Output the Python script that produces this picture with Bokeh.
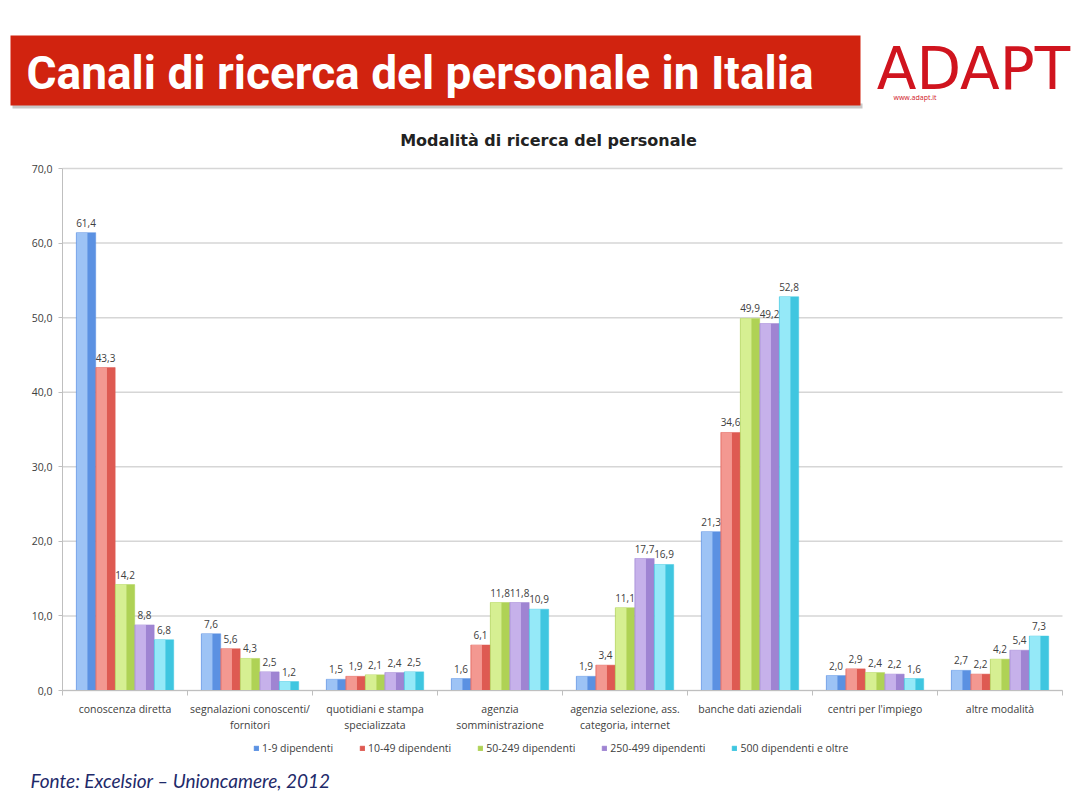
from bokeh.plotting import figure
from bokeh.models import (Range1d, ColumnDataSource, Legend, LegendItem,
                          FixedTicker, CustomJSTickFormatter, Label, BoxAnnotation)
from bokeh.core.properties import value
from bokeh.embed import file_html
from bokeh.resources import INLINE

# ---------------- data ----------------
categories = [
    "conoscenza diretta",
    "segnalazioni conoscenti/\nfornitori",
    "quotidiani e stampa\nspecializzata",
    "agenzia\nsomministrazione",
    "agenzia selezione, ass.\ncategoria, internet",
    "banche dati aziendali",
    "centri per l'impiego",
    "altre modalità",
]
series_names = ["1-9 dipendenti", "10-49 dipendenti", "50-249 dipendenti",
                "250-499 dipendenti", "500 dipendenti e oltre"]
v_1_9 = [61.4, 7.6, 1.5, 1.6, 1.9, 21.3, 2.0, 2.7]
v_10_49 = [43.3, 5.6, 1.9, 6.1, 3.4, 34.6, 2.9, 2.2]
v_50_249 = [14.2, 4.3, 2.1, 11.8, 11.1, 49.9, 2.4, 4.2]
v_250_499 = [8.8, 2.5, 2.4, 11.8, 17.7, 49.2, 2.2, 5.4]
v_500 = [6.8, 1.2, 2.5, 10.9, 16.9, 52.8, 1.6, 7.3]
y_ticks = [0, 10, 20, 30, 40, 50, 60, 70]

series_values = [v_1_9, v_10_49, v_50_249, v_250_499, v_500]
dark_colors = ["#5B91E2", "#DE5A52", "#AFD255", "#9F84D2", "#3FC6E0"]
light_colors = ["#A9CBF8", "#F7A39C", "#DDF49E", "#CDB8EE", "#A4EFFB"]

# ---------------- page geometry ----------------
W, H = 1077, 803
PL, PR, PT, PB = 62, 1062, 168, 690     # plot area (axes box) in page pixels
n = len(categories)
ymax = y_ticks[-1]
ppu_x = (PR - PL) / n                    # pixels per category
ppu_y = (PB - PT) / ymax                 # pixels per unit
x_start = -0.5 - PL / ppu_x
x_end = n - 0.5 + (W - PR) / ppu_x
y_start = -(H - PB) / ppu_y
y_end = ymax + PT / ppu_y

SMALL = "Open Sans"
GRAY = "#BFBFBF"

p = figure(width=W, height=H, x_range=Range1d(x_start, x_end), y_range=Range1d(y_start, y_end),
           toolbar_location=None, output_backend="svg", min_border=0)
p.outline_line_color = None
p.grid.visible = False
p.extra_x_ranges = {"px": Range1d(0, W)}
p.extra_y_ranges = {"px": Range1d(H, 0)}

# horizontal gridlines across the category span
p.segment(x0=[-0.5] * len(y_ticks), x1=[n - 0.5] * len(y_ticks), y0=y_ticks, y1=y_ticks,
          line_color="#D6D6D6", line_width=1.5)

offsets = [-0.312, -0.156, 0.0, 0.156, 0.312]
bw = 0.155
xi = list(range(n))
items = []
for name, vals, off, dc, lc in zip(series_names, series_values, offsets, dark_colors, light_colors):
    src = ColumnDataSource(dict(x=[i + off for i in xi], xl=[i + off - bw * 0.2 for i in xi],
                                top=vals, lbl=[f"{v:.1f}".replace(".", ",") for v in vals]))
    r = p.vbar(x="x", top="top", width=bw, source=src,
               fill_color=dc, line_color=dc, line_width=0.5)
    p.vbar(x="xl", top="top", width=bw * 0.55, source=src,
           fill_color=lc, line_color=None, fill_alpha=0.85)
    p.text(x="x", y="top", text="lbl", source=src, y_offset=-6, text_align="center",
           text_baseline="bottom", text_font=value(SMALL), text_font_size="10px",
           text_color="#404040")
    items.append(LegendItem(label=name, renderers=[r]))

# axes drawn at fixed positions inside the page frame
p.yaxis.fixed_location = -0.5
p.yaxis.bounds = (0, ymax)
p.yaxis.ticker = FixedTicker(ticks=y_ticks)
p.yaxis.formatter = CustomJSTickFormatter(code="return tick.toFixed(1).replace('.', ',');")
p.yaxis.axis_line_color = GRAY
p.yaxis.major_tick_line_color = GRAY
p.yaxis.major_tick_out = 4
p.yaxis.major_tick_in = 0
p.yaxis.minor_tick_line_color = None
p.yaxis.major_label_standoff = 6
p.yaxis.major_label_text_font = SMALL
p.yaxis.major_label_text_font_size = "10.5px"
p.yaxis.major_label_text_color = "#404040"

p.xaxis.fixed_location = 0
p.xaxis.bounds = (-0.5, n - 0.5)
p.xaxis.ticker = FixedTicker(ticks=xi, minor_ticks=[i - 0.5 for i in range(n + 1)])
p.xaxis.major_label_overrides = {i: c for i, c in zip(xi, categories)}
p.xaxis.axis_line_color = GRAY
p.xaxis.major_tick_line_color = None
p.xaxis.minor_tick_line_color = GRAY
p.xaxis.minor_tick_out = 5
p.xaxis.minor_tick_in = 0
p.xaxis.major_label_standoff = 5
p.xaxis.major_label_text_font = SMALL
p.xaxis.major_label_text_font_size = "10.5px"
p.xaxis.major_label_text_color = "#404040"

legend = Legend(items=items, orientation="horizontal", location=(253, 48),
                label_text_font=SMALL, label_text_font_size="10.5px", label_text_color="#404040",
                glyph_width=6, glyph_height=6, label_standoff=3, spacing=26,
                border_line_color=None, background_fill_alpha=0, margin=0, padding=4)
p.add_layout(legend)

# ---------------- page decorations ----------------
p.add_layout(BoxAnnotation(left=12, right=862, top=103, bottom=108, x_range_name="px",
                           y_range_name="px", fill_color="#C8C8C8", fill_alpha=1,
                           line_color=None))
p.add_layout(BoxAnnotation(left=10, right=860, top=35, bottom=105, x_range_name="px",
                           y_range_name="px", fill_color="#D1230F", fill_alpha=1,
                           line_color=None))
p.add_layout(Label(x=26, y=72, x_range_name="px", y_range_name="px",
                   text="Canali di ricerca del personale in Italia", text_font="Roboto",
                   text_font_style="bold", text_font_size="46px", text_color="white",
                   text_baseline="middle", text_align="left"))
p.add_layout(Label(x=973, y=68, x_range_name="px", y_range_name="px", text="ADAPT",
                   text_font="DejaVu Sans", text_font_size="58px", text_color="#D0141E",
                   text_baseline="middle", text_align="center"))
p.add_layout(Label(x=893, y=97, x_range_name="px", y_range_name="px", text="www.adapt.it",
                   text_font=SMALL, text_font_size="7px", text_color="#D0141E",
                   text_baseline="middle", text_align="left"))
p.add_layout(Label(x=548, y=140, x_range_name="px", y_range_name="px",
                   text="Modalità di ricerca del personale", text_font="DejaVu Sans",
                   text_font_style="bold", text_font_size="16px", text_color="#222222",
                   text_baseline="middle", text_align="center"))
p.add_layout(Label(x=30, y=780, x_range_name="px", y_range_name="px",
                   text="Fonte: Excelsior – Unioncamere, 2012", text_font="Lato",
                   text_font_style="italic", text_font_size="19px", text_color="#1E2A6A",
                   text_baseline="middle", text_align="left"))

open("out.html", "w").write(file_html(p, INLINE))
